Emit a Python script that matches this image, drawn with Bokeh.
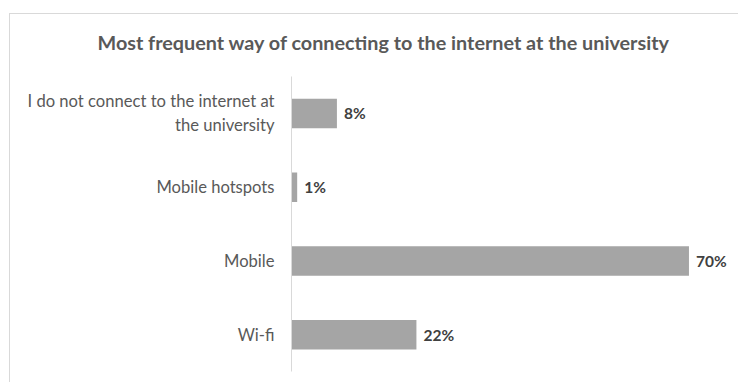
from bokeh.plotting import figure
from bokeh.models import FactorRange, Range1d, ColumnDataSource, Title
from bokeh.core.properties import value
from bokeh.embed import file_html
from bokeh.resources import INLINE

title_text = "Most frequent way of connecting to the internet at the university"
categories = ["I do not connect to the internet at\nthe university", "Mobile hotspots", "Mobile", "Wi-fi"]
values = [8, 1, 70, 22]
labels = [f"{v}%" for v in values]

src = ColumnDataSource(dict(cat=categories, val=values, label=labels))

p = figure(width=729, height=369,
           y_range=FactorRange(*categories[::-1], range_padding=0),
           x_range=Range1d(0, 78.9),
           output_backend="svg", toolbar_location=None,
           min_border_left=281, min_border_right=0, min_border_top=62, min_border_bottom=12)
p.margin = (13, 0, 0, 9)
p.styles = {"border-top": "1px solid #d9d9d9", "border-left": "1px solid #d9d9d9"}

p.hbar(y="cat", left=0, right="val", height=0.4, source=src,
       fill_color="#a5a5a5", line_color=None)
p.text(x="val", y="cat", text="label", source=src, x_offset=7,
       text_align="left", text_baseline="middle",
       text_font=value("Lato"), text_font_style="bold", text_font_size="15.5px",
       text_color="#404040")

p.xaxis.visible = False
p.xgrid.grid_line_color = None
p.ygrid.grid_line_color = None
p.outline_line_color = None
p.yaxis.axis_line_color = "#d9d9d9"
p.yaxis.major_tick_line_color = None
p.yaxis.minor_tick_line_color = None
p.yaxis.major_label_standoff = 11
p.yaxis.major_label_text_font = "Lato"
p.yaxis.major_label_text_font_size = "16.6px"
p.yaxis.major_label_text_color = "#595959"

p.title.text = title_text
p.title.align = "left"
p.title.offset = -194
p.title.standoff = 0
p.title.text_font = "Lato"
p.title.text_font_style = "bold"
p.title.text_font_size = "19.8px"
p.title.text_color = "#595959"

# empty spacer panel between the title and the plot area
p.add_layout(Title(text=" ", text_font_size="19px", standoff=0), "above")

open("out.html", "w").write(file_html(p, INLINE))
